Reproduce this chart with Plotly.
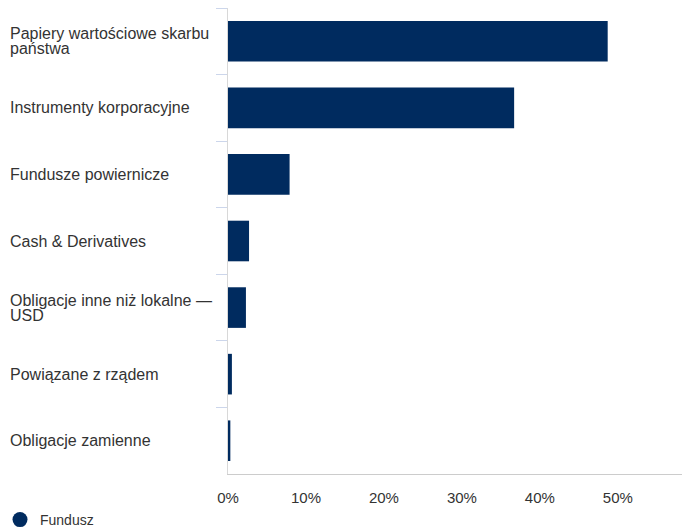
import plotly.graph_objects as go

categories = [
    "Papiery wartościowe skarbu<br>państwa",
    "Instrumenty korporacyjne",
    "Fundusze powiernicze",
    "Cash & Derivatives",
    "Obligacje inne niż lokalne —<br>USD",
    "Powiązane z rządem",
    "Obligacje zamienne",
]
values = [48.7, 36.7, 7.9, 2.7, 2.3, 0.5, 0.3]
series_name = "Fundusz"
tick_vals = [0, 10, 20, 30, 40, 50]
tick_text = ["0%", "10%", "20%", "30%", "40%", "50%"]

NAVY = "#002B5F"
FONT = "Arial, Liberation Sans, sans-serif"
OFF = 8  # page body margin
W, H = 690 - OFF, 529 - OFF
ML, MR, MT, MB = 228 - OFF, 2, 0, H - (474 - OFF)
pw = W - ML - MR
ph = H - MT - MB

fig = go.Figure()
fig.add_trace(go.Bar(
    x=values, y=categories, orientation="h",
    marker=dict(color=NAVY, line=dict(width=0)),
    width=0.61, showlegend=False, hoverinfo="x+y",
))
fig.add_trace(go.Scatter(
    x=[None], y=[categories[0]], mode="markers", name=series_name,
    marker=dict(symbol="circle", size=15, color=NAVY),
    showlegend=True,
))

annotations = []
LINE_H = 15
for c in categories:
    lines = c.split("<br>")
    n = len(lines)
    for i, ln in enumerate(lines):
        annotations.append(dict(
            x=-(ML - (8 - OFF)) / pw, xref="paper", y=c, yref="y",
            text=ln, showarrow=False, xanchor="left", yanchor="middle", align="left",
            yshift=((n - 1) / 2 - i) * LINE_H,
            font=dict(family=FONT, size=16, color="#333333"),
        ))

fig.update_layout(
    width=W, height=H,
    margin=dict(l=ML, r=MR, t=MT, b=MB, autoexpand=False),
    plot_bgcolor="white", paper_bgcolor="white",
    font=dict(family=FONT, size=15, color="#333333"),
    annotations=annotations,
    showlegend=True,
    legend=dict(
        orientation="h", x=(-OFF - ML) / pw, xanchor="left",
        y=-(520 - 474) / ph, yanchor="middle",
        font=dict(family=FONT, size=14, color="#333333"),
        itemsizing="trace", bgcolor="rgba(0,0,0,0)",
    ),
    xaxis=dict(
        range=[0, 59.0], tickvals=tick_vals, ticktext=tick_text,
        showgrid=False, zeroline=False,
        showline=True, linecolor="#cccccc", linewidth=1,
        ticks="outside", ticklen=10, tickcolor="rgba(0,0,0,0)",
        tickfont=dict(family=FONT, size=15, color="#333333"),
        fixedrange=True,
    ),
    yaxis=dict(
        categoryorder="array", categoryarray=categories,
        autorange="reversed",
        showticklabels=False, showgrid=False, zeroline=False,
        showline=True, linecolor="#d8d8d8", linewidth=1,
        ticks="outside", tickson="boundaries", ticklen=11, tickcolor="#ccd6eb",
        fixedrange=True,
    ),
)

fig.write_html("out.html")
